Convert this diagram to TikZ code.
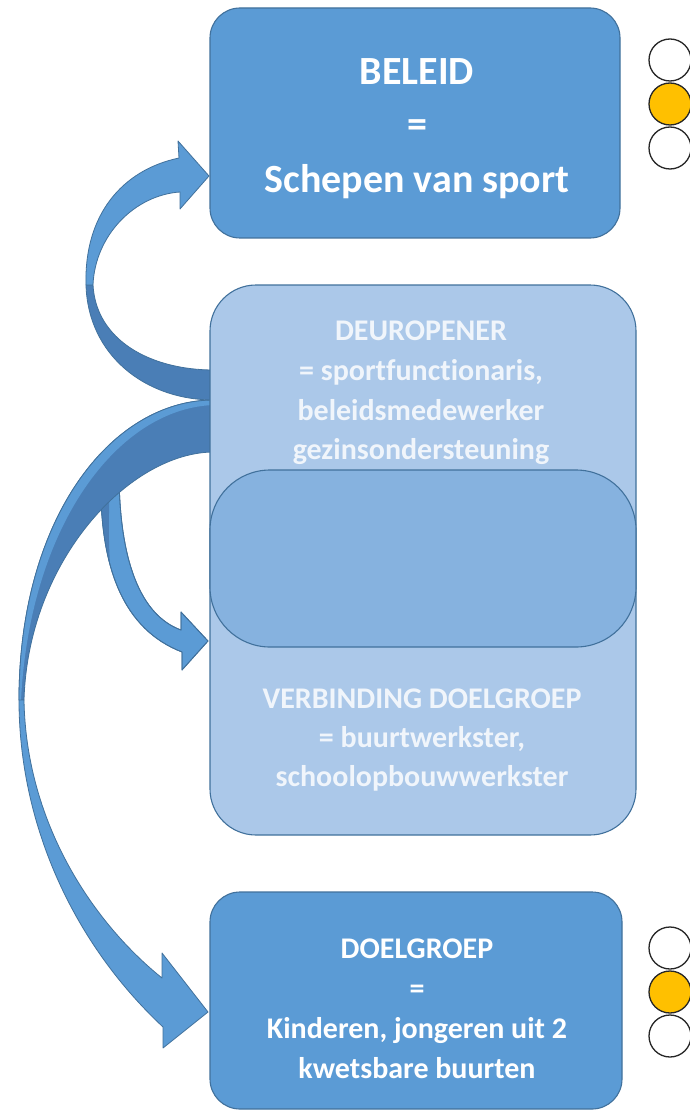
\documentclass[tikz,border=0pt]{standalone}
\usepackage{fontspec}
\setmainfont{Carlito}[Ligatures=NoCommon]
\definecolor{boxblue}{HTML}{5B9BD5}
\definecolor{edgeblue}{HTML}{41719C}
\definecolor{midblue}{HTML}{ABC8E9}
\definecolor{innerblue}{HTML}{86B2DF}
\definecolor{backblue}{HTML}{4A7EB6}
\definecolor{amber}{HTML}{FFC000}
\definecolor{paletxt}{HTML}{F0F5FB}
\tikzset{
  frontface/.style={fill=boxblue, draw=edgeblue, line width=0.8pt, line join=round},
  backface/.style={fill=backblue, draw=edgeblue, line width=0.8pt, line join=round},
  rimline/.style={draw=edgeblue, line width=0.8pt, line join=round},
  solidbox/.style={draw=edgeblue, line width=1.1pt, fill=boxblue, rounded corners=30pt, inner sep=0pt},
  palebox/.style={draw=edgeblue, line width=1.1pt, fill=midblue, rounded corners=46pt, inner sep=0pt},
  pillbox/.style={draw=edgeblue, line width=1.1pt, fill=innerblue, rounded corners=60pt, inner sep=0pt},
  toptxt/.style={text=white, font=\bfseries\fontsize{40}{44}\selectfont, anchor=base, inner sep=0pt},
  lowtxt/.style={text=white, font=\bfseries\fontsize{30}{34}\selectfont, anchor=base, inner sep=0pt},
  midtxt/.style={lowtxt, text=paletxt},
  lamp/.style={circle, draw=black!85, line width=1.3pt, minimum size=42pt, inner sep=0pt, fill=white},
  lampon/.style={lamp, fill=amber}
}
\begin{document}
\begin{tikzpicture}[x=1pt,y=-1pt]
\useasboundingbox (0,0) rectangle (689,1115);
\fill[white] (0,0) rectangle (689,1115);

% ---- arrow C (to VERBINDING DOELGROEP)
\path[frontface] (101,470) .. controls (98,570) and (125,630) .. (182,652) -- (182,670) -- (208,641) -- (181,612) -- (181,630) .. controls (140,615) and (119,560) .. (119,470) -- cycle;
\begin{scope}
  \clip (101,470) .. controls (98,570) and (125,630) .. (182,652) -- (182,670) -- (208,641) -- (181,612) -- (181,630) .. controls (140,615) and (119,560) .. (119,470) -- cycle;
  \fill[backblue] (80,460) -- (111,460) .. controls (108,520) and (108,550) .. (112,585) -- (80,600) -- cycle;
\end{scope}
\path[rimline] (101,470) .. controls (98,570) and (125,630) .. (182,652) -- (182,670) -- (208,641) -- (181,612) -- (181,630) .. controls (140,615) and (119,560) .. (119,470);

% ---- arrow B (to DOELGROEP)
\path[backface] (214,400) .. controls (110,400) and (19,520) .. (19,700) -- (24,700) .. controls (28,560) and (130,452) .. (214,452) -- cycle;
\path[fill=boxblue] (214,400) .. controls (110,400) and (19,520) .. (19,700) -- (21,700) .. controls (30,525) and (118,408) .. (214,405) -- cycle;
\path[rimline] (214,400) .. controls (110,400) and (19,520) .. (19,700);
\path[frontface] (19,700) .. controls (19,820) and (70,940) .. (163,1027) -- (163,1048) -- (208,1012) -- (162,953) -- (162,978) .. controls (90,920) and (26,820) .. (24,700) -- cycle;

% ---- arrow A (to BELEID)
\path[backface] (86,285) .. controls (88,355) and (145,400) .. (214,400) -- (214,370) .. controls (150,370) and (96,340) .. (93,285) -- cycle;
\path[frontface] (86,285) .. controls (84,215) and (122,170) .. (179,158) -- (178,141) -- (209,176) -- (180,209) -- (180,192) .. controls (135,195) and (95,235) .. (93,285) -- cycle;

% ---- boxes
\node[solidbox, minimum width=410pt, minimum height=230pt] (beleid) at (415,123) {};
\node[palebox, minimum width=426pt, minimum height=550pt] (midden) at (423,560) {};
\node[pillbox, minimum width=426pt, minimum height=177pt] (overlap) at (423,558.5) {};
\node[solidbox, minimum width=412pt, minimum height=217pt] (doelgroep) at (416,1000.5) {};

% ---- texts
\node[toptxt] (t1) at (417,85) {BELEID};
\node[toptxt] (t2) at (417,138) {=};
\node[toptxt] (t3) at (417,193) {Schepen van sport};

\node[midtxt] (m1) at (421,340) {DEUROPENER};
\node[midtxt] (m2) at (421,380) {= sportfunctionaris,};
\node[midtxt] (m3) at (421,420) {beleidsmedewerker};
\node[midtxt] (m4) at (421,459) {gezinsondersteuning};
\node[midtxt] (m5) at (422,708) {VERBINDING DOELGROEP};
\node[midtxt] (m6) at (422,747) {= buurtwerkster,};
\node[midtxt] (m7) at (422,786) {schoolopbouwwerkster};

\node[lowtxt] (b1) at (417,958) {DOELGROEP};
\node[lowtxt] (b2) at (417,998) {=};
\node[lowtxt] (b3) at (417,1038) {Kinderen, jongeren uit 2};
\node[lowtxt] (b4) at (417,1078) {kwetsbare buurten};

% ---- traffic lights
\node[lamp] (l1) at (670,60) {};
\node[lampon] (l2) at (670,104) {};
\node[lamp] (l3) at (670,148) {};
\node[lamp] (l4) at (670,948) {};
\node[lampon] (l5) at (670,992) {};
\node[lamp] (l6) at (670,1036) {};
\end{tikzpicture}
\end{document}
